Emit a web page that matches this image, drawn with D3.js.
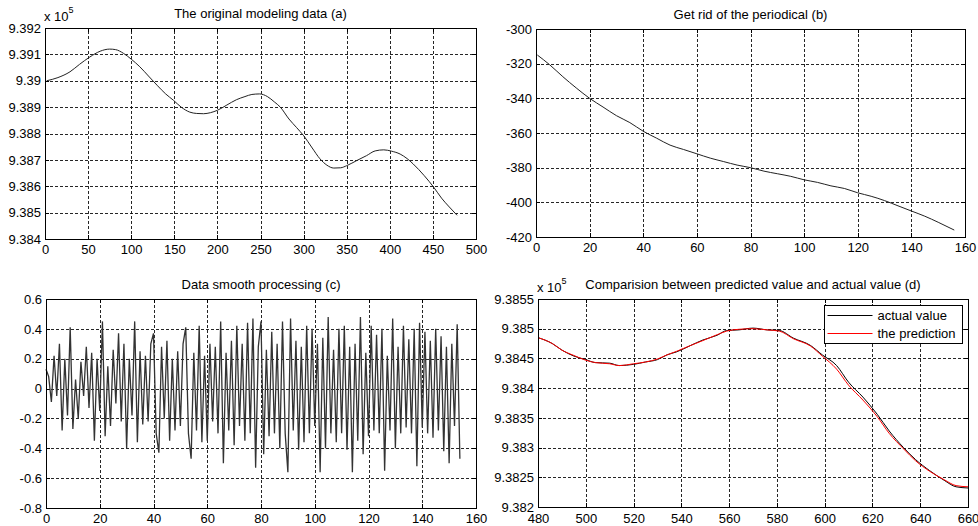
<!DOCTYPE html>
<html>
<head>
<meta charset="utf-8">
<script src="https://cdn.jsdelivr.net/npm/d3@7"></script>
<style>
  body { margin: 0; background: #fff; }
  svg { display: block; font-family: "Liberation Sans", Arial, sans-serif; }
  .tick text { font-size: 13px; fill: #000; }
  .grid line { stroke: #000; stroke-dasharray: 3,2; stroke-width: 1; shape-rendering: crispEdges; opacity: 0.85; }
  .grid .domain { display: none; }
  .axis .domain { display: none; }
  .axis line { stroke: #000; shape-rendering: crispEdges; }
  .title { font-size: 13px; fill: #000; }
</style>
</head>
<body>
<div id="chart"></div>
<script>
// (a) original modeling data, values in units of 10^5
var modelX = [2, 15, 29, 40, 52, 64, 75, 82, 91, 100, 110, 120, 130, 140, 149, 158, 168, 176, 184, 192, 200, 211, 222, 232, 240, 249, 258, 266, 273, 283, 292, 300, 310, 319, 327, 335, 343, 350, 362, 373, 383, 393, 402, 412, 420, 427, 440, 451, 460, 468, 478]
var modelY = [9.39000, 9.39012, 9.39034, 9.39062, 9.39090, 9.39112, 9.39120, 9.39118, 9.39104, 9.39082, 9.39053, 9.39018, 9.38983, 9.38950, 9.38926, 9.38900, 9.38881, 9.38876, 9.38875, 9.38879, 9.38888, 9.38908, 9.38928, 9.38940, 9.38948, 9.38950, 9.38940, 9.38920, 9.38900, 9.38855, 9.38822, 9.38792, 9.38745, 9.38704, 9.38680, 9.38669, 9.38670, 9.38678, 9.38698, 9.38716, 9.38734, 9.38738, 9.38733, 9.38722, 9.38705, 9.38685, 9.38640, 9.38596, 9.38555, 9.38525, 9.38490]

// (b) trend without the periodical part
var trendX = [0.5, 5, 10, 15, 20, 25, 30, 35, 40, 45, 50, 55, 60, 65, 70, 75, 80, 85, 90, 95, 100, 105, 110, 115, 120, 125, 130, 135, 140, 145, 150, 156]
var trendY = [-315, -320.5, -327.5, -334, -340, -345, -350, -354, -359, -363, -367, -369.5, -372, -374.5, -376.5, -378.5, -380, -382, -383.5, -385, -387, -388.5, -390.5, -392, -394.5, -396.5, -399, -402, -405, -408, -411.5, -416]

// (c) smoothed residual, one value per sample 0..154
var smoothY = [
  0.13, 0.08, -0.09, 0.22, -0.05, 0.30, -0.28, 0.20, -0.18, 0.41,
  -0.27, 0.06, -0.20, 0.18, -0.05, 0.28, -0.13, 0.24, -0.35, 0.20,
  -0.15, 0.45, -0.32, 0.15, -0.25, 0.26, -0.10, 0.37, -0.22, 0.30,
  -0.40, 0.20, -0.18, 0.45, -0.36, 0.25, -0.24, 0.22, -0.22, 0.30,
  0.37, -0.30, -0.43, 0.28, -0.20, 0.32, -0.35, 0.20, -0.28, 0.25,
  -0.25, 0.30, 0.41, -0.30, -0.47, 0.24, -0.28, 0.42, -0.36, 0.22,
  -0.35, 0.30, -0.22, 0.28, -0.30, 0.45, -0.50, 0.24, -0.28, 0.32,
  -0.38, 0.42, -0.25, 0.30, -0.35, 0.44, -0.30, 0.47, -0.53, 0.28,
  0.45, -0.44, 0.26, -0.32, 0.38, -0.30, 0.30, -0.40, 0.45, -0.30,
  -0.56, 0.47, -0.28, 0.32, -0.41, 0.28, -0.36, 0.42, -0.30, 0.40,
  -0.25, 0.30, -0.56, 0.34, -0.40, 0.48, -0.30, 0.26, -0.36, 0.40,
  -0.30, 0.42, -0.41, 0.28, -0.56, 0.30, -0.35, 0.48, -0.44, 0.24,
  -0.32, 0.42, -0.28, 0.36, -0.30, 0.40, -0.55, 0.22, -0.28, 0.47,
  -0.40, 0.28, -0.30, 0.42, -0.26, 0.33, -0.30, 0.40, -0.52, 0.44,
  -0.26, 0.38, -0.30, 0.32, -0.33, 0.40, -0.28, 0.35, -0.42, 0.28,
  -0.50, 0.30, -0.25, 0.43, -0.47
]

// (d) actual value vs prediction, units of 10^5
var compX = [480, 486, 490, 495, 500, 504, 510, 514, 520, 525, 530, 534, 538, 544, 549, 555, 559, 564, 570, 576, 581, 587, 594, 599, 605, 610, 616, 622, 627, 633, 638, 644, 650, 655, 660]
var actualY = [9.38485, 9.38475, 9.38464, 9.38454, 9.38448, 9.38443, 9.38442, 9.38438, 9.38440, 9.38444, 9.38448, 9.38456, 9.38461, 9.38472, 9.38481, 9.38489, 9.38497, 9.38498, 9.38501, 9.38498, 9.38497, 9.38484, 9.38472, 9.38456, 9.38438, 9.38410, 9.38385, 9.38356, 9.38328, 9.38300, 9.38280, 9.38261, 9.38245, 9.38234, 9.38232]
var predY = [9.38485, 9.38475, 9.38464, 9.38455, 9.38447, 9.38443, 9.38441, 9.38438, 9.38441, 9.38444, 9.38449, 9.38456, 9.38462, 9.38472, 9.38480, 9.38490, 9.38496, 9.38499, 9.38500, 9.38498, 9.38496, 9.38483, 9.38471, 9.38454, 9.38432, 9.38405, 9.38380, 9.38352, 9.38324, 9.38298, 9.38278, 9.38260, 9.38246, 9.38236, 9.38234]

// tick values
var ticksA_x = d3.range(0, 501, 50)
var ticksA_y = [9.384, 9.385, 9.386, 9.387, 9.388, 9.389, 9.39, 9.391, 9.392]
var ticksB_x = d3.range(0, 161, 20)
var ticksB_y = [-420, -400, -380, -360, -340, -320, -300]
var ticksC_x = d3.range(0, 161, 20)
var ticksC_y = [-0.8, -0.6, -0.4, -0.2, 0, 0.2, 0.4, 0.6]
var ticksD_x = d3.range(480, 661, 20)
var ticksD_y = [9.382, 9.3825, 9.383, 9.3835, 9.384, 9.3845, 9.385, 9.3855]

var svg = d3.select("#chart").append("svg")
  .attr("width", 978)
  .attr("height", 526)

// plain hyphen minus, no trailing zeros (MATLAB style)
function fmt(d) {
  return String(+d.toFixed(6))
}

function panel(opts) {
  var w = opts.right - opts.left
  var h = opts.bottom - opts.top
  var g = svg.append("g").attr("transform", `translate(${opts.left},${opts.top})`)

  var x = d3.scaleLinear().domain(opts.xDomain).range([0, w])
  var y = d3.scaleLinear().domain(opts.yDomain).range([h, 0])

  // dotted grid, skip the box edges
  var gx = opts.xTicks.slice(1, -1)
  var gy = opts.yTicks.slice(1, -1)
  g.append("g").attr("class", "grid")
    .attr("transform", `translate(0,${h})`)
    .call(d3.axisBottom(x).tickValues(gx).tickSize(-h).tickFormat(""))
  g.append("g").attr("class", "grid")
    .call(d3.axisLeft(y).tickValues(gy).tickSize(-w).tickFormat(""))

  // axes with inward ticks
  g.append("g").attr("class", "axis")
    .attr("transform", `translate(0,${h})`)
    .call(d3.axisBottom(x).tickValues(opts.xTicks).tickSizeInner(-4).tickSizeOuter(0).tickPadding(opts.xPad || 6).tickFormat(fmt))
  g.append("g").attr("class", "axis")
    .call(d3.axisLeft(y).tickValues(opts.yTicks).tickSizeInner(-4).tickSizeOuter(0).tickPadding(4).tickFormat(fmt))
  g.append("g").attr("class", "axis")
    .call(d3.axisTop(x).tickValues(opts.xTicks).tickSizeInner(-4).tickSizeOuter(0).tickFormat(""))
  g.append("g").attr("class", "axis")
    .attr("transform", `translate(${w},0)`)
    .call(d3.axisRight(y).tickValues(opts.yTicks).tickSizeInner(-4).tickSizeOuter(0).tickFormat(""))

  var line = d3.line()
    .x(d => x(d[0]))
    .y(d => y(d[1]))
    .curve(opts.curve || d3.curveLinear)

  opts.series.forEach(s => {
    g.append("path")
      .datum(s.xs.map((v, i) => [v, s.ys[i]]))
      .attr("fill", "none")
      .attr("stroke", s.color)
      .attr("stroke-width", s.width || 1)
      .attr("d", line)
  })

  g.append("rect")
    .attr("x", 0.5)
    .attr("y", 0.5)
    .attr("width", w)
    .attr("height", h)
    .attr("fill", "none")
    .attr("stroke", "#000")
    .attr("stroke-width", 1)

  svg.append("text")
    .attr("class", "title")
    .attr("x", opts.left + w / 2)
    .attr("y", opts.top - 10)
    .attr("text-anchor", "middle")
    .text(opts.title)

  if (opts.exponent) {
    var t = svg.append("text")
      .attr("x", opts.left - 1)
      .attr("y", opts.top - 7)
      .attr("font-size", 13)
    t.append("tspan").text("x 10")
    t.append("tspan").attr("font-size", 9).attr("dy", -8).text("5")
  }

  return { g, x, y, w, h }
}

panel({
  left: 45, right: 476, top: 28, bottom: 239,
  xDomain: [0, 500], yDomain: [9.384, 9.392],
  xTicks: ticksA_x, yTicks: ticksA_y,
  title: "The original modeling data (a)",
  exponent: true,
  curve: d3.curveMonotoneX,
  series: [{ xs: modelX, ys: modelY, color: "#222" }]
})

panel({
  left: 536, right: 965, top: 29, bottom: 237,
  xDomain: [0, 160], yDomain: [-420, -300],
  xTicks: ticksB_x, yTicks: ticksB_y,
  title: "Get rid of the periodical (b)",
  curve: d3.curveMonotoneX,
  series: [{ xs: trendX, ys: trendY, color: "#222" }]
})

panel({
  left: 46, right: 476, top: 299, bottom: 508,
  xDomain: [0, 160], yDomain: [-0.8, 0.6],
  xTicks: ticksC_x, yTicks: ticksC_y,
  title: "Data smooth processing (c)",
  series: [{ xs: d3.range(smoothY.length), ys: smoothY, color: "#333", width: 1.3 }]
})

var pd = panel({
  left: 538, right: 968, top: 299, bottom: 507,
  xDomain: [480, 660], yDomain: [9.382, 9.3855],
  xTicks: ticksD_x, yTicks: ticksD_y,
  xPad: 7,
  title: "Comparision between predicted value and actual value (d)",
  exponent: true,
  curve: d3.curveMonotoneX,
  series: [
    { xs: compX, ys: actualY, color: "#000" },
    { xs: compX, ys: predY, color: "#ff0000" }
  ]
})

// legend for (d)
var legendItems = [
  { label: "actual value", color: "#000" },
  { label: "the prediction", color: "#ff0000" }
]
var lg = pd.g.append("g").attr("transform", `translate(${824 - 538 + 0.5},${305 - 299 + 0.5})`)
lg.append("rect")
  .attr("width", 138)
  .attr("height", 38)
  .attr("fill", "#fff")
  .attr("stroke", "#000")
legendItems.forEach((d, i) => {
  var yy = 10 + i * 18
  lg.append("line")
    .attr("x1", 3).attr("x2", 48)
    .attr("y1", yy).attr("y2", yy)
    .attr("stroke", d.color)
  lg.append("text")
    .attr("x", 53)
    .attr("y", yy + 4.5)
    .attr("font-size", 13)
    .text(d.label)
})
</script>
</body>
</html>
